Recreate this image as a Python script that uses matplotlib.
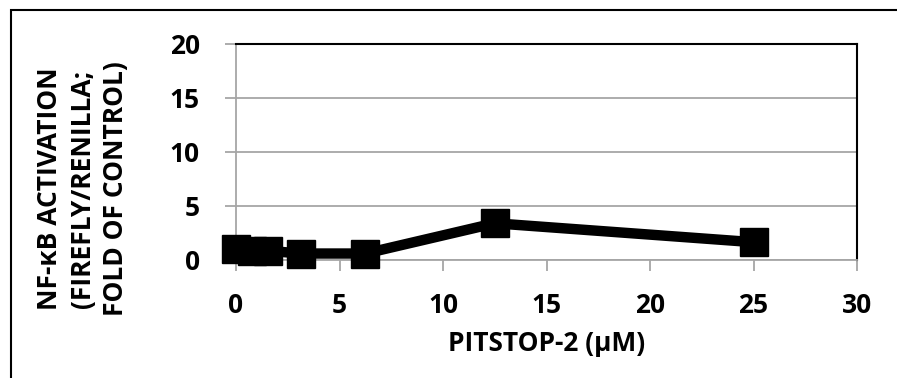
import matplotlib.pyplot as plt
from matplotlib.patches import Rectangle

# Pitstop-2 dose (uM) vs NF-kB activation (fold of control)
dose = [0, 0.78, 1.56, 3.125, 6.25, 12.5, 25]
activation = [1.05, 0.85, 0.85, 0.6, 0.6, 3.4, 1.65]

x_ticks = [0, 5, 10, 15, 20, 25, 30]
y_ticks = [0, 5, 10, 15, 20]

plt.rcParams["font.family"] = ["Open Sans", "DejaVu Sans"]
plt.rcParams["font.weight"] = "bold"

fig = plt.figure(figsize=(8.97, 3.78), dpi=100)
ax = fig.add_axes([236 / 897, 1 - 260 / 378, 621 / 897, 216 / 378])

ax.plot(dose, activation, color="black", linewidth=7.5, marker="s",
        markersize=20, solid_joinstyle="miter", clip_on=False, zorder=5)

ax.set_xlim(0, 30)
ax.set_ylim(0, 20)
ax.set_xticks(x_ticks)
ax.set_yticks(y_ticks)
ax.yaxis.grid(True, color="#a6a6a6", linewidth=1.3)
ax.set_axisbelow(True)

for side in ("top", "right"):
    ax.spines[side].set_color("black")
    ax.spines[side].set_linewidth(1.5)
for side in ("left", "bottom"):
    ax.spines[side].set_color("#a6a6a6")
    ax.spines[side].set_linewidth(1.3)

ax.tick_params(axis="both", direction="out", length=8, width=1.3,
               color="#a6a6a6", labelsize=19)
ax.tick_params(axis="x", pad=15)
ax.tick_params(axis="y", pad=18)
for lab in ax.get_xticklabels() + ax.get_yticklabels():
    lab.set_fontweight("bold")

ax.set_xlabel("PITSTOP-2 (\u03bcM)", fontsize=19, fontweight="bold",
              labelpad=8)
ax.set_ylabel("NF-\u03baB ACTIVATION\n(FIREFLY/RENILLA;\nFOLD OF CONTROL)",
              fontsize=19, fontweight="bold", linespacing=1.3)
ax.yaxis.set_label_coords(-0.172, 0.33)

# outer chart border (runs past the right and bottom edges of the image)
fig.patches.append(Rectangle((11 / 897, -0.05), 1.2, 1 - 10 / 378 + 0.05,
                             transform=fig.transFigure, fill=False,
                             edgecolor="black", linewidth=1.5))

fig.savefig("out.png", dpi=100)
